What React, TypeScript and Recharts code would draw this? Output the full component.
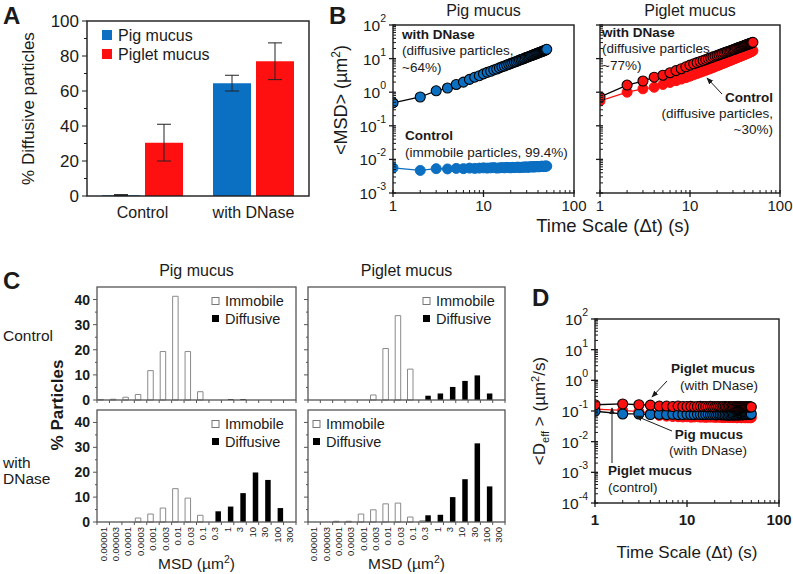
import React from "react";
import { BarChart, Bar, XAxis, YAxis, ErrorBar, LineChart, Line } from "recharts";

const FONT = "'Liberation Sans', Arial, Helvetica, sans-serif";
const BLUE = "#0b6fc2";
const RED = "#ff1010";
const INK = "#1a1a1a";
const GREY = "#555";

// panel A: % diffusive particles
const groups = ["Control", "with DNase"];
const pigPct = [0.5, 64.5];
const pigErr = [0.3, 4.5];
const pigletPct = [30.5, 77];
const pigletErr = [10.5, 10.5];
const pctTicks = [0, 10, 20, 30, 40, 50, 60, 70, 80, 90, 100];

// panels B and D: time scale (s)
const times = [1, 2, 3, 4, 5, 6, 7, 8, 9, 10, 11, 12, 13, 14, 15, 16, 17, 18, 19, 20, 21, 22, 23, 24, 25, 26, 27, 28, 29, 30, 31, 32, 33, 34, 35, 36, 37, 38, 39, 40, 41, 42, 43, 44, 45, 46, 47, 48, 49, 50];

// <MSD> (um^2)
const msdPigDnase = [0.48, 0.72, 1.1, 1.33, 1.7, 2.0, 2.4, 2.8, 3.1, 3.5, 3.9, 4.2, 4.6, 4.9, 5.3, 5.7, 6.0, 6.4, 6.8, 7.1, 7.5, 7.9, 8.2, 8.6, 9.0, 9.4, 9.7, 10.1, 10.5, 10.9, 11.2, 11.6, 12.0, 12.4, 12.8, 13.1, 13.5, 13.9, 14.3, 14.7, 15.0, 15.4, 15.8, 16.2, 16.6, 17.0, 17.4, 17.8, 18.3, 18.9];
const msdPigCtl = [0.0056, 0.0047, 0.0053, 0.0052, 0.0054, 0.0053, 0.0055, 0.0054, 0.0055, 0.0056, 0.0055, 0.0056, 0.0057, 0.0055, 0.0056, 0.0057, 0.0056, 0.0058, 0.0057, 0.0056, 0.0058, 0.0057, 0.0058, 0.0059, 0.0057, 0.0058, 0.0059, 0.0058, 0.006, 0.0059, 0.0058, 0.006, 0.0059, 0.0061, 0.006, 0.0059, 0.0061, 0.006, 0.0062, 0.0061, 0.006, 0.0062, 0.0061, 0.0063, 0.0062, 0.0061, 0.0063, 0.0062, 0.0064, 0.0063];
const msdPigletDnase = [0.72, 1.63, 2.15, 2.8, 3.2, 3.8, 4.4, 5.0, 5.7, 6.4, 7.0, 7.6, 8.2, 8.8, 9.4, 10.0, 10.6, 11.2, 11.8, 12.4, 13.0, 13.6, 14.2, 14.8, 15.4, 16.0, 16.6, 17.2, 17.8, 18.4, 19.0, 19.6, 20.2, 20.8, 21.4, 22.0, 22.6, 23.2, 23.8, 24.4, 25.0, 25.6, 26.2, 26.8, 27.4, 28.0, 28.6, 29.2, 29.8, 30.5];
const msdPigletCtl = [0.55, 1.0, 1.26, 1.4, 1.7, 1.95, 2.2, 2.45, 2.7, 3.0, 3.3, 3.6, 3.9, 4.2, 4.5, 4.8, 5.1, 5.4, 5.8, 6.1, 6.4, 6.8, 7.1, 7.4, 7.8, 8.1, 8.5, 8.8, 9.2, 9.5, 9.9, 10.2, 10.6, 10.9, 11.3, 11.6, 12.0, 12.4, 12.7, 13.1, 13.5, 13.8, 14.2, 14.6, 15.0, 15.4, 15.8, 16.2, 16.6, 17.2];

// <Deff> (um^2/s)
const deffPigletDnase = [0.16, 0.17, 0.16, 0.155, 0.145, 0.145, 0.14, 0.145, 0.14, 0.14, 0.142, 0.138, 0.14, 0.141, 0.139, 0.14, 0.138, 0.141, 0.14, 0.137, 0.139, 0.14, 0.138, 0.137, 0.14, 0.139, 0.136, 0.138, 0.14, 0.137, 0.138, 0.136, 0.139, 0.137, 0.138, 0.136, 0.137, 0.139, 0.136, 0.138, 0.137, 0.135, 0.138, 0.136, 0.137, 0.135, 0.136, 0.138, 0.136, 0.135];
const deffPigDnase = [0.098, 0.08, 0.08, 0.077, 0.078, 0.077, 0.078, 0.076, 0.077, 0.078, 0.077, 0.076, 0.078, 0.077, 0.076, 0.077, 0.078, 0.076, 0.077, 0.076, 0.075, 0.077, 0.076, 0.075, 0.076, 0.074, 0.075, 0.073, 0.075, 0.074, 0.076, 0.073, 0.075, 0.074, 0.076, 0.075, 0.074, 0.076, 0.077, 0.075, 0.076, 0.078, 0.077, 0.076, 0.078, 0.077, 0.079, 0.078, 0.079, 0.08];
const deffPigletCtl = [0.115, 0.105, 0.095, 0.085, 0.072, 0.068, 0.066, 0.065, 0.064, 0.065, 0.063, 0.064, 0.065, 0.063, 0.064, 0.062, 0.064, 0.063, 0.065, 0.062, 0.063, 0.064, 0.062, 0.063, 0.061, 0.063, 0.062, 0.064, 0.061, 0.062, 0.063, 0.061, 0.062, 0.063, 0.06, 0.062, 0.061, 0.063, 0.06, 0.062, 0.061, 0.062, 0.06, 0.061, 0.062, 0.06, 0.061, 0.062, 0.06, 0.061];

const timeDecades = [1, 10, 100];
const msdDecades = [0.001, 0.01, 0.1, 1, 10, 100];
const deffDecades = [0.0001, 0.001, 0.01, 0.1, 1, 10, 100];

// panel C: MSD histogram bins (um^2), % particles
const bins = ["0.00001", "0.00003", "0.0001", "0.0003", "0.001", "0.003", "0.01", "0.03", "0.1", "0.3", "1", "3", "10", "30", "100", "300"];
const pigCtlImm = [0.2, 0.3, 1.1, 2.2, 11.7, 19.3, 41.3, 19.3, 3.3, null, null, null, null, null, null, null];
const pigCtlDif = [null, null, null, null, null, null, null, null, null, null, 0.3, 0.3, null, null, null, null];
const pigDnImm = [null, null, null, 1.6, 3.2, 5.6, 13.4, 9.6, 2.7, null, null, null, null, null, null, null];
const pigDnDif = [null, null, null, null, null, null, null, null, null, 4.3, 6.2, 11.6, 19.9, 16.9, 5.6, null];
const pigletCtlImm = [null, null, null, null, null, 2.0, 20.5, 33.6, 12.3, null, null, null, null, null, null, null];
const pigletCtlDif = [null, null, null, null, null, null, null, null, null, 1.7, 2.6, 5.2, 7.6, 9.8, 2.6, null];
const pigletDnImm = [null, null, 0.3, 0.3, 3.2, 4.9, 7.3, 7.6, 2.0, 0.5, null, null, null, null, null, null];
const pigletDnDif = [null, null, null, null, null, null, null, null, null, 2.7, 2.9, 10.0, 17.2, 31.6, 14.3, null];
const histTicks = [0, 5, 10, 15, 20, 25, 30, 35, 40];

// ---------- helpers
type Rect = { x: number; y: number; w: number; h: number };
const PAD = { l: 60, r: 24, t: 16, b: 42 };

const A_PLOT: Rect = { x: 87, y: 21, w: 222, h: 175 };
const BL_PLOT: Rect = { x: 393, y: 25, w: 181, h: 168 };
const BR_PLOT: Rect = { x: 600, y: 25, w: 180, h: 168 };
const CTL_PLOT: Rect = { x: 97, y: 287, w: 199, h: 113 };
const CTR_PLOT: Rect = { x: 308, y: 287, w: 197, h: 113 };
const CBL_PLOT: Rect = { x: 97, y: 410, w: 199, h: 112 };
const CBR_PLOT: Rect = { x: 308, y: 410, w: 197, h: 112 };
const D_PLOT: Rect = { x: 595, y: 319, w: 184, h: 184 };

const boxStyle = (r: Rect): React.CSSProperties => ({
  position: "absolute",
  left: r.x - PAD.l,
  top: r.y - PAD.t,
});
const chartW = (r: Rect) => r.w + PAD.l + PAD.r;
const chartH = (r: Rect) => r.h + PAD.t + PAD.b;
const MARGIN = { top: PAD.t, right: PAD.r, left: 0, bottom: 0 };

const withMinor = (decades: number[]) =>
  decades.flatMap((d, i) =>
    i === decades.length - 1 ? [d] : [1, 2, 3, 4, 5, 6, 7, 8, 9].map((m) => +(d * m).toPrecision(3)),
  );
const isPow10 = (v: number) => Math.abs(Math.log10(v) - Math.round(Math.log10(v))) < 1e-6;

const logYTick = (showLabel: boolean, size: number) => (p: any) => {
  const { x, y, payload } = p;
  const v = payload.value;
  if (!isPow10(v)) return <line x1={x} x2={x + 3} y1={y} y2={y} stroke={INK} strokeWidth={1} />;
  const e = Math.round(Math.log10(v));
  return (
    <g>
      <line x1={x - 4} x2={x + 3} y1={y} y2={y} stroke={INK} strokeWidth={1.3} />
      {showLabel && (
        <text x={x - 7} y={y + 6} textAnchor="end" fontSize={size} fill={INK} fontFamily={FONT}>
          10
          <tspan dy={-9} fontSize={size * 0.68}>
            {e}
          </tspan>
        </text>
      )}
    </g>
  );
};

const logXTick = (size: number, bold: boolean, dy: number) => (p: any) => {
  const { x, y, payload } = p;
  const v = payload.value;
  if (!isPow10(v)) return <line x1={x} x2={x} y1={y} y2={y - 3} stroke={INK} strokeWidth={1} />;
  return (
    <g>
      <line x1={x} x2={x} y1={y - 3} y2={y + 4} stroke={INK} strokeWidth={1.3} />
      <text x={x} y={y + dy} textAnchor="middle" fontSize={size} fontWeight={bold ? "bold" : "normal"} fill={INK} fontFamily={FONT}>
        {v}
      </text>
    </g>
  );
};

const binTick = (bw: number, showLabel: boolean) => (p: any) => {
  const { x, y, payload, index } = p;
  return (
    <g>
      <line x1={x - bw / 2} x2={x - bw / 2} y1={y} y2={y + 3} stroke={GREY} />
      {index === bins.length - 1 && <line x1={x + bw / 2} x2={x + bw / 2} y1={y} y2={y + 3} stroke={GREY} />}
      {showLabel && (
        <text
          transform={`translate(${x + 3.3},${y + 5}) rotate(-90)`}
          textAnchor="end"
          fontSize={9.5}
          fill={INK}
          fontFamily={FONT}
        >
          {payload.value}
        </text>
      )}
    </g>
  );
};

const histYTick = (showLabel: boolean) => (p: any) => {
  const { x, y, payload } = p;
  const v = payload.value;
  const major = v % 10 === 0;
  return (
    <g>
      <line x1={x} x2={x - (major ? 4 : 2)} y1={y} y2={y} stroke={GREY} />
      {showLabel && major && (
        <text x={x - 7} y={y} dy="0.36em" textAnchor="end" fontSize={14} fontWeight="bold" fill={INK} fontFamily={FONT}>
          {v}
        </text>
      )}
    </g>
  );
};

function Histogram({ r, imm, dif, xLabels, yLabels }: { r: Rect; imm: (number | null)[]; dif: (number | null)[]; xLabels: boolean; yLabels: boolean }) {
  const rows = bins.map((b, i) => ({ bin: b, imm: imm[i], dif: dif[i] }));
  const bw = r.w / bins.length;
  return (
    <div style={boxStyle(r)}>
      <BarChart width={chartW(r)} height={chartH(r)} data={rows} margin={MARGIN} barGap={0}>
        <XAxis dataKey="bin" height={PAD.b} interval={0} axisLine={false} tickLine={false} tickSize={0} tickMargin={0} tick={binTick(bw, xLabels)} />
        <YAxis width={PAD.l} domain={[0, 45]} ticks={histTicks} interval={0} axisLine={false} tickLine={false} tickSize={0} tickMargin={0} tick={histYTick(yLabels)} />
        <Bar dataKey="imm" fill="#fff" stroke="#8a8a8a" strokeWidth={1} barSize={5.5} isAnimationActive={false} />
        <Bar dataKey="dif" fill="#000" barSize={5.5} isAnimationActive={false} />
      </BarChart>
    </div>
  );
}

function T({ x, y, s = 13.5, b = false, a = "start", children, rot }: any) {
  return (
    <text
      x={x}
      y={y}
      fontSize={s}
      fontWeight={b ? "bold" : "normal"}
      textAnchor={a}
      fill={INK}
      fontFamily={FONT}
      transform={rot ? `rotate(-90 ${x} ${y})` : undefined}
    >
      {children}
    </text>
  );
}

const frame = (r: Rect, color = INK, sw = 1.4) => (
  <rect x={r.x} y={r.y} width={r.w} height={r.h} fill="none" stroke={color} strokeWidth={sw} />
);

export default function App() {
  const aRows = groups.map((g, i) => ({ g, pig: pigPct[i], pigE: pigErr[i], piglet: pigletPct[i], pigletE: pigletErr[i] }));
  const msdRows = times.map((t, i) => ({
    t,
    pigDn: msdPigDnase[i],
    pigCtl: msdPigCtl[i],
    pigletDn: msdPigletDnase[i],
    pigletCtl: msdPigletCtl[i],
  }));
  const deffRows = times.map((t, i) => ({
    t,
    pigletDn: deffPigletDnase[i],
    pigDn: deffPigDnase[i],
    pigletCtl: deffPigletCtl[i],
  }));
  const xLogTicks = withMinor(timeDecades);

  const logXAxis = (size: number, bold: boolean, dy: number) => (
    <XAxis
      dataKey="t"
      type="number"
      scale="log"
      domain={[1, 100]}
      allowDataOverflow
      ticks={xLogTicks}
      interval={0}
      height={PAD.b}
      axisLine={false}
      tickLine={false}
      tickSize={0}
      tickMargin={0}
      tick={logXTick(size, bold, dy)}
    />
  );

  return (
    <div style={{ position: "absolute", left: 0, top: 0, width: 793, height: 574, background: "#fff", overflow: "hidden", fontFamily: FONT }}>
      {/* A */}
      <div style={boxStyle(A_PLOT)}>
        <BarChart width={chartW(A_PLOT)} height={chartH(A_PLOT)} data={aRows} margin={MARGIN} barGap={5} barCategoryGap={15}>
          <XAxis
            dataKey="g"
            height={PAD.b}
            axisLine={false}
            tickLine={false}
            tickSize={0}
            tickMargin={0}
            tick={(p: any) => (
              <text x={p.x} y={p.y + 22} textAnchor="middle" fontSize={16} fill={INK} fontFamily={FONT}>
                {p.payload.value}
              </text>
            )}
          />
          <YAxis
            width={PAD.l}
            domain={[0, 100]}
            ticks={pctTicks}
            interval={0}
            axisLine={false}
            tickLine={false}
            tickSize={0}
            tickMargin={0}
            tick={(p: any) => {
              const major = p.payload.value % 20 === 0;
              return (
                <g>
                  <line x1={p.x} x2={p.x - (major ? 5 : 3)} y1={p.y} y2={p.y} stroke={INK} />
                  {major && (
                    <text x={p.x - 8} y={p.y} dy="0.36em" textAnchor="end" fontSize={17} fill={INK} fontFamily={FONT}>
                      {p.payload.value}
                    </text>
                  )}
                </g>
              );
            }}
          />
          <Bar dataKey="pig" fill={BLUE} barSize={38} isAnimationActive={false}>
            <ErrorBar dataKey="pigE" width={7} stroke="#222" strokeWidth={1} isAnimationActive={false} />
          </Bar>
          <Bar dataKey="piglet" fill={RED} barSize={38} isAnimationActive={false}>
            <ErrorBar dataKey="pigletE" width={7} stroke="#222" strokeWidth={1} isAnimationActive={false} />
          </Bar>
        </BarChart>
      </div>

      {/* B left: pig mucus */}
      <div style={boxStyle(BL_PLOT)}>
        <LineChart width={chartW(BL_PLOT)} height={chartH(BL_PLOT)} data={msdRows} margin={MARGIN}>
          {logXAxis(15, false, 18)}
          <YAxis width={PAD.l} type="number" scale="log" domain={[0.001, 100]} allowDataOverflow ticks={withMinor(msdDecades)} interval={0} axisLine={false} tickLine={false} tickSize={0} tickMargin={0} tick={logYTick(true, 15.5)} />
          <Line dataKey="pigCtl" stroke={BLUE} strokeWidth={1.3} dot={{ r: 5, fill: BLUE, stroke: BLUE, strokeWidth: 1 }} activeDot={false} isAnimationActive={false} />
          <Line dataKey="pigDn" stroke="#000" strokeWidth={1.3} dot={{ r: 5, fill: BLUE, stroke: "#000", strokeWidth: 1.1 }} activeDot={false} isAnimationActive={false} />
        </LineChart>
      </div>

      {/* B right: piglet mucus */}
      <div style={boxStyle(BR_PLOT)}>
        <LineChart width={chartW(BR_PLOT)} height={chartH(BR_PLOT)} data={msdRows} margin={MARGIN}>
          {logXAxis(15, false, 18)}
          <YAxis width={PAD.l} type="number" scale="log" domain={[0.001, 100]} allowDataOverflow ticks={withMinor(msdDecades)} interval={0} axisLine={false} tickLine={false} tickSize={0} tickMargin={0} tick={logYTick(false, 15.5)} />
          <Line dataKey="pigletCtl" stroke={RED} strokeWidth={1.3} dot={{ r: 5, fill: RED, stroke: RED, strokeWidth: 1 }} activeDot={false} isAnimationActive={false} />
          <Line dataKey="pigletDn" stroke="#000" strokeWidth={1.3} dot={{ r: 5, fill: RED, stroke: "#000", strokeWidth: 1.1 }} activeDot={false} isAnimationActive={false} />
        </LineChart>
      </div>

      {/* C histograms */}
      <Histogram r={CTL_PLOT} imm={pigCtlImm} dif={pigCtlDif} xLabels={false} yLabels />
      <Histogram r={CTR_PLOT} imm={pigletCtlImm} dif={pigletCtlDif} xLabels={false} yLabels={false} />
      <Histogram r={CBL_PLOT} imm={pigDnImm} dif={pigDnDif} xLabels yLabels />
      <Histogram r={CBR_PLOT} imm={pigletDnImm} dif={pigletDnDif} xLabels yLabels={false} />

      {/* D */}
      <div style={boxStyle(D_PLOT)}>
        <LineChart width={chartW(D_PLOT)} height={chartH(D_PLOT)} data={deffRows} margin={MARGIN}>
          {logXAxis(15, true, 22)}
          <YAxis width={PAD.l} type="number" scale="log" domain={[0.0001, 100]} allowDataOverflow ticks={withMinor(deffDecades)} interval={0} axisLine={false} tickLine={false} tickSize={0} tickMargin={0} tick={logYTick(true, 15.5)} />
          <Line dataKey="pigletCtl" stroke={RED} strokeWidth={1.3} dot={{ r: 5, fill: RED, stroke: RED, strokeWidth: 1 }} activeDot={false} isAnimationActive={false} />
          <Line dataKey="pigDn" stroke="#000" strokeWidth={1.3} dot={{ r: 5, fill: BLUE, stroke: "#000", strokeWidth: 1.1 }} activeDot={false} isAnimationActive={false} />
          <Line dataKey="pigletDn" stroke="#000" strokeWidth={1.3} dot={{ r: 5, fill: RED, stroke: "#000", strokeWidth: 1.1 }} activeDot={false} isAnimationActive={false} />
        </LineChart>
      </div>

      {/* frames, titles and annotations */}
      <svg width={793} height={574} style={{ position: "absolute", left: 0, top: 0, pointerEvents: "none" }}>
        <defs>
          <marker id="ah" viewBox="0 0 10 10" refX="9" refY="5" markerWidth="7" markerHeight="7" orient="auto">
            <path d="M0,1 L10,5 L0,9 z" fill={INK} />
          </marker>
        </defs>

        {frame(A_PLOT)}
        {frame(BL_PLOT)}
        {frame(BR_PLOT)}
        {frame(CTL_PLOT, GREY, 1.3)}
        {frame(CTR_PLOT, GREY, 1.3)}
        {frame(CBL_PLOT, GREY, 1.3)}
        {frame(CBR_PLOT, GREY, 1.3)}
        {frame(D_PLOT)}

        {/* A */}
        <T x={3} y={24} s={24} b>A</T>
        <T x={34} y={108.5} s={17} a="middle" rot>% Diffusive particles</T>
        <rect x={102} y={30} width={10} height={10} fill={BLUE} />
        <T x={118} y={41} s={16}>Pig mucus</T>
        <rect x={102} y={49} width={10} height={10} fill={RED} />
        <T x={118} y={60} s={16}>Piglet mucus</T>

        {/* B */}
        <T x={329} y={24} s={24} b>B</T>
        <T x={483.5} y={16} s={16} a="middle">Pig mucus</T>
        <T x={690} y={16} s={16} a="middle">Piglet mucus</T>
        <text x={347} y={100} fontSize={18} textAnchor="middle" fill={INK} fontFamily={FONT} transform="rotate(-90 347 100)">
          {"<MSD>  (\u00b5m"}
          <tspan dy={-7} fontSize={12}>2</tspan>
          <tspan dy={7}>)</tspan>
        </text>
        <T x={613} y={232} s={18.5} a="middle">Time Scale (Δt) (s)</T>
        <T x={402} y={39} b>with DNase</T>
        <T x={402} y={55}>(diffusive particles,</T>
        <T x={402} y={72}>~64%)</T>
        <T x={405} y={140} b>Control</T>
        <T x={405} y={157}>(immobile particles, 99.4%)</T>
        <T x={602} y={37} b>with DNase</T>
        <T x={602} y={53}>(diffusive particles,</T>
        <T x={602} y={70}>~77%)</T>
        <T x={773} y={102} b a="end">Control</T>
        <T x={773} y={118} a="end">(diffusive particles,</T>
        <T x={773} y={134} a="end">~30%)</T>
        <line x1={722} y1={94} x2={707} y2={78} stroke={INK} strokeWidth={1} markerEnd="url(#ah)" />

        {/* C */}
        <T x={3} y={289} s={24} b>C</T>
        <T x={196.5} y={276} s={16} a="middle">Pig mucus</T>
        <T x={406.5} y={276} s={16} a="middle">Piglet mucus</T>
        <T x={3} y={341} s={15.5}>Control</T>
        <T x={3} y={468} s={15.5}>with</T>
        <T x={3} y={484} s={15.5}>DNase</T>
        <T x={63} y={405} s={17} b a="middle" rot>% Particles</T>
        {[
          { lx: 212, ly: 301 },
          { lx: 423, ly: 301 },
          { lx: 212, ly: 424 },
          { lx: 313, ly: 424 },
        ].map((l, i) => (
          <g key={i}>
            <rect x={l.lx} y={l.ly - 3.5} width={7} height={7} fill="#fff" stroke="#777" strokeWidth={1} />
            <T x={l.lx + 13} y={l.ly + 5} s={14.5}>Immobile</T>
            <rect x={l.lx} y={l.ly + 14} width={7} height={7} fill="#000" />
            <T x={l.lx + 13} y={l.ly + 22.5} s={14.5}>Diffusive</T>
          </g>
        ))}
        {[196.5, 406.5].map((cx, i) => (
          <text key={i} x={cx} y={569} fontSize={15.5} textAnchor="middle" fill={INK} fontFamily={FONT}>
            {"MSD (\u00b5m"}
            <tspan dy={-6} fontSize={10.5}>2</tspan>
            <tspan dy={6}>)</tspan>
          </text>
        ))}

        {/* D */}
        <T x={532} y={306} s={24} b>D</T>
        <text x={545} y={411} fontSize={17} textAnchor="middle" fill={INK} fontFamily={FONT} transform="rotate(-90 545 411)">
          {"<D"}
          <tspan dy={4} fontSize={11}>eff</tspan>
          <tspan dy={-4}>{" >  (\u00b5m"}</tspan>
          <tspan dy={-6} fontSize={11}>2</tspan>
          <tspan dy={6}>/s)</tspan>
        </text>
        <T x={687} y={558} s={17} a="middle">Time Scale (Δt) (s)</T>
        <T x={755} y={373} b a="end">Piglet mucus</T>
        <T x={758} y={390} a="end">(with DNase)</T>
        <line x1={667} y1={381} x2={652} y2={397} stroke={INK} strokeWidth={1} markerEnd="url(#ah)" />
        <T x={743} y={439} b a="end">Pig mucus</T>
        <T x={747} y={455} a="end">(with DNase)</T>
        <line x1={672} y1={431} x2={636} y2={416} stroke={INK} strokeWidth={1} markerEnd="url(#ah)" />
        <T x={608} y={475} b>Piglet mucus</T>
        <T x={608} y={492}>(control)</T>
        <line x1={612} y1={463} x2={612} y2={408} stroke={INK} strokeWidth={1} markerEnd="url(#ah)" />
      </svg>
    </div>
  );
}
